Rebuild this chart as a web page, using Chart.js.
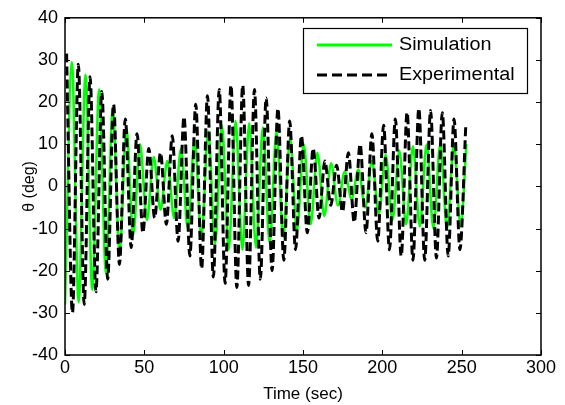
<!DOCTYPE html>
<html>
<head>
<meta charset="utf-8">
<script src="https://cdn.jsdelivr.net/npm/chart.js@4.4.1/dist/chart.umd.min.js"></script>
<style>
  html, body { margin:0; padding:0; background:#fff; }
  #wrap { width:565px; height:405px; }
</style>
</head>
<body>
<div id="wrap"><canvas id="thetaChart" width="565" height="405"></canvas></div>
<script>
// ==== DATA (peaks / troughs) ====
const X_TICKS = [0, 50, 100, 150, 200, 250, 300];
const Y_TICKS = [-40, -30, -20, -10, 0, 10, 20, 30, 40];

// Experimental (black dashed)
const expTime = [
  1.0, 4.7, 8.4, 12.1, 15.8, 19.5, 23.2, 26.9, 30.6, 34.3,
  38.0, 41.7, 45.4, 49.1, 52.8, 56.5, 60.2, 63.9, 67.6, 71.3,
  75.0, 78.7, 82.4, 86.1, 89.8, 93.5, 97.2, 100.9, 104.6, 108.3,
  112.0, 115.7, 119.4, 123.1, 126.8, 130.5, 134.2, 137.9, 141.6, 145.3,
  149.0, 152.7, 156.4, 160.1, 163.8, 167.5, 171.2, 174.9, 178.6, 182.3,
  186.0, 189.7, 193.4, 197.1, 200.8, 204.5, 208.2, 211.9, 215.6, 219.3,
  223.0, 226.7, 230.4, 234.1, 237.8, 241.5, 245.2, 248.9, 252.6
];
const expTheta = [
  31.5, -30, 29, -28, 26, -25, 22.5, -22, 19.5, -18.5,
  16, -14.5, 12.5, -11, 9, -7.5, 8, -9, 12, -13,
  16.5, -16.5, 19.5, -19.5, 21.5, -21.5, 23, -23, 24, -24,
  24, -23.5, 23, -22, 21, -20, 18.5, -17.5, 15.5, -15,
  12, -11, 9, -7.5, 6, -4.5, 5, -6, 8, -8.5,
  10, -11, 12.5, -13, 14.5, -15, 16, -16.5, 17.5, -17.5,
  18.5, -17.5, 18, -17, 17.5, -16.5, 16, -15, 14.5
];

// Simulation (green solid)
const simTime = [
  0, 4.3, 8.6, 12.9, 17.2, 21.5, 25.8, 30.1, 34.4, 38.7,
  43.0, 47.3, 51.6, 55.9, 60.2, 64.5, 68.8, 73.1, 77.4, 81.7,
  86.0, 90.3, 94.6, 98.9, 103.2, 107.5, 111.8, 116.1, 120.4, 124.7,
  129.0, 133.3, 137.6, 141.9, 146.2, 150.5, 154.8, 159.1, 163.4, 167.7,
  172.0, 176.3, 180.6, 184.9, 189.2, 193.5, 197.8, 202.1, 206.4, 210.7,
  215.0, 219.3, 223.6, 227.9, 232.2, 236.5, 240.8, 245.1, 249.4, 253.0
];
const simTheta = [
  -28, 29.5, -27.5, 26.5, -24.5, 23, -20.5, 18.5, -16, 14,
  -11.5, 10, -8, 7, -5.5, 6, -7.5, 9, -10, 11,
  -12, 13, -13.5, 14.5, -15, 15.5, -15, 15, -14.5, 14,
  -13.5, 13, -12, 11.5, -10.5, 10, -9, 8, -7, 5.5,
  -4.5, 3.5, -3, 4, -5, 6, -6.5, 7.5, -8, 8.5,
  -9, 9.5, -9.5, 10, -10, 10, -10, 10, -9.5, 10
];

// ==== Helpers ====
const FONT = 'Arial, "Liberation Sans", sans-serif';
const toPoints = (xs, ys) => xs.map((t, i) => ({ x: t, y: ys[i] }));

// text a bit wider than the font gives (the reference is stretched sideways)
function wideText(ctx, txt, x, y, sx) {
  ctx.save();
  ctx.translate(x, y);
  ctx.scale(sx, 1);
  ctx.fillText(txt, 0, 0);
  ctx.restore();
}

// Box, inward ticks and the legend drawn inside the plot
const framePlugin = {
  id: "framePlugin",
  afterDraw(chart) {
    const { ctx, chartArea: a, scales: { x, y } } = chart;
    ctx.save();
    ctx.strokeStyle = "#000";
    ctx.lineWidth = 1.5;
    ctx.setLineDash([]);
    ctx.strokeRect(a.left, a.top, a.right - a.left, a.bottom - a.top);

    ctx.lineWidth = 1;
    ctx.beginPath();
    X_TICKS.forEach(v => {
      const px = Math.round(x.getPixelForValue(v)) + 0.5;
      ctx.moveTo(px, a.bottom); ctx.lineTo(px, a.bottom - 5);
      ctx.moveTo(px, a.top); ctx.lineTo(px, a.top + 5);
    });
    Y_TICKS.forEach(v => {
      const py = Math.round(y.getPixelForValue(v)) + 0.5;
      ctx.moveTo(a.left, py); ctx.lineTo(a.left + 5, py);
      ctx.moveTo(a.right, py); ctx.lineTo(a.right - 5, py);
    });
    ctx.stroke();

    // legend box
    const lx = 303, ly = 28, lw = 224, lh = 65;
    ctx.fillStyle = "#fff";
    ctx.fillRect(lx, ly, lw, lh);
    ctx.lineWidth = 1.2;
    ctx.strokeRect(lx + 0.5, ly + 0.5, lw, lh);

    ctx.lineWidth = 3;
    ctx.strokeStyle = "#00ff00";
    ctx.beginPath(); ctx.moveTo(317, 45); ctx.lineTo(392, 45); ctx.stroke();
    ctx.strokeStyle = "#000";
    ctx.setLineDash([10, 5]);
    ctx.beginPath(); ctx.moveTo(317, 75); ctx.lineTo(392, 75); ctx.stroke();
    ctx.setLineDash([]);

    ctx.fillStyle = "#000";
    ctx.font = `18px ${FONT}`;
    ctx.textBaseline = "middle";
    ctx.textAlign = "left";
    wideText(ctx, "Simulation", 399, 45, 1.1);
    wideText(ctx, "Experimental", 399, 75, 1.1);
    ctx.restore();
  }
};

// ==== Chart ====
const ctx = document.getElementById("thetaChart").getContext("2d");
new Chart(ctx, {
  type: "line",
  data: {
    datasets: [
      {
        label: "Simulation",
        data: toPoints(simTime, simTheta),
        borderColor: "#00ff00",
        borderWidth: 2.5,
        pointRadius: 0,
        cubicInterpolationMode: "monotone",
        fill: false,
        order: 1
      },
      {
        label: "Experimental",
        data: toPoints(expTime, expTheta),
        borderColor: "#000",
        borderWidth: 3,
        borderDash: [9, 4],
        pointRadius: 0,
        cubicInterpolationMode: "monotone",
        fill: false,
        order: 0
      }
    ]
  },
  options: {
    responsive: false,
    animation: false,
    layout: { padding: { top: 15, right: 24, left: 0, bottom: 0 } },
    plugins: { legend: { display: false }, tooltip: { enabled: false } },
    scales: {
      x: {
        type: "linear",
        min: 0, max: 300,
        afterBuildTicks: s => { s.ticks = X_TICKS.map(v => ({ value: v })); },
        afterFit: s => { s.height = 50; },
        grid: { display: false, drawTicks: false },
        border: { display: false },
        ticks: { color: "#000", font: { family: FONT, size: 18 }, padding: 2, maxRotation: 0 },
        title: { display: true, text: "Time (sec)", color: "#000", font: { family: FONT, size: 17 }, padding: { top: 0, bottom: 0 } }
      },
      y: {
        min: -40, max: 40,
        afterBuildTicks: s => { s.ticks = Y_TICKS.map(v => ({ value: v })); },
        afterFit: s => { s.width = 65; },
        grid: { display: false, drawTicks: false },
        border: { display: false },
        ticks: { color: "#000", font: { family: FONT, size: 18 }, padding: 7 },
        title: { display: true, text: "θ (deg)", color: "#000", font: { family: FONT, size: 16 }, padding: { top: 20, bottom: 0 } }
      }
    }
  },
  plugins: [framePlugin]
});
</script>
</body>
</html>
